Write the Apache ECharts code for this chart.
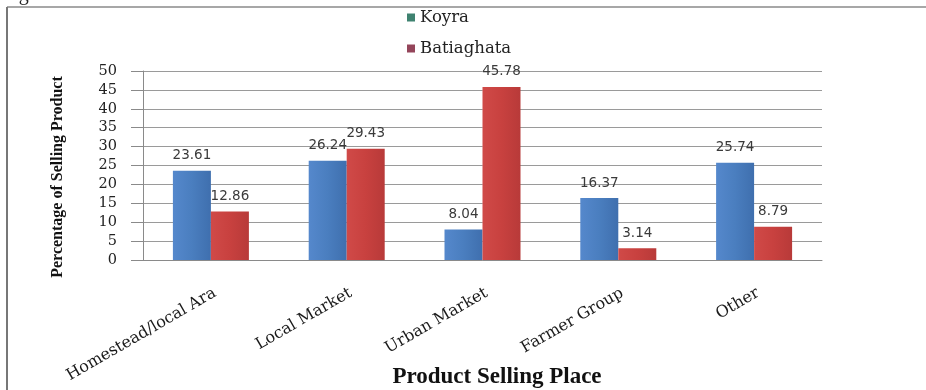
<!DOCTYPE html>
<html>
<head>
<meta charset="utf-8">
<style>
  html, body { margin: 0; padding: 0; background: #ffffff; }
  #chart { width: 926px; height: 390px; }
</style>
<script src="https://cdn.jsdelivr.net/npm/echarts@6/dist/echarts.min.js"></script>
</head>
<body>
<div id="chart"></div>
<script>
// Selling places and share of product sold (%) per upazila
const places = ['Homestead/local Ara', 'Local Market', 'Urban Market', 'Farmer Group', 'Other'];
const koyra = [23.61, 26.24, 8.04, 16.37, 25.74];
const batiaghata = [12.86, 29.43, 45.78, 3.14, 8.79];
const yTicks = { min: 0, max: 50, step: 5 };

const chart = echarts.init(document.getElementById('chart'), null, { renderer: 'canvas' });

const blueFill = new echarts.graphic.LinearGradient(0, 0, 1, 0, [
  { offset: 0, color: '#5588cc' },
  { offset: 0.5, color: '#4a7ebf' },
  { offset: 1, color: '#3f6fae' }
]);
const redFill = new echarts.graphic.LinearGradient(0, 0, 1, 0, [
  { offset: 0, color: '#d04a48' },
  { offset: 0.5, color: '#c8413f' },
  { offset: 1, color: '#b83a39' }
]);

const valueLabel = {
  show: true,
  position: 'top',
  distance: 8,
  fontFamily: 'DejaVu Sans',
  fontSize: 13.5,
  color: '#3a3a3a',
  formatter: p => p.value.toFixed(2)
};

chart.setOption({
  backgroundColor: '#ffffff',
  animation: false,
  legend: {
    orient: 'vertical',
    left: 402,
    top: 4,
    itemWidth: 8,
    itemHeight: 8,
    itemGap: 14,
    icon: 'rect',
    textStyle: { fontFamily: 'DejaVu Serif', fontSize: 16.5, color: '#222' },
    data: [
      { name: 'Koyra', itemStyle: { color: '#3f8270' } },
      { name: 'Batiaghata', itemStyle: { color: '#94455a' } }
    ]
  },
  grid: { left: 143, right: 104, top: 71, bottom: 130 },
  xAxis: {
    type: 'category',
    data: places,
    axisLine: { show: true, lineStyle: { color: '#8a8a8a', width: 1 } },
    axisTick: { show: false },
    axisLabel: {
      rotate: 30,
      margin: 25,
      verticalAlign: 'top',
      fontFamily: 'DejaVu Serif',
      fontSize: 16,
      color: '#1a1a1a',
      interval: 0
    }
  },
  yAxis: {
    type: 'value',
    min: yTicks.min,
    max: yTicks.max,
    interval: yTicks.step,
    axisLine: { show: true, lineStyle: { color: '#8a8a8a', width: 1 } },
    axisTick: { show: true, inside: false, length: 12, lineStyle: { color: '#8a8a8a' } },
    splitLine: { show: true, lineStyle: { color: '#9a9a9a', width: 1 } },
    axisLabel: {
      margin: 26,
      fontFamily: 'DejaVu Serif',
      fontSize: 14.5,
      color: '#222'
    }
  },
  series: [
    {
      name: 'Koyra',
      type: 'bar',
      data: koyra,
      barWidth: 38,
      barGap: '0%',
      itemStyle: { color: blueFill },
      label: valueLabel
    },
    {
      name: 'Batiaghata',
      type: 'bar',
      data: batiaghata,
      barWidth: 38,
      barGap: '0%',
      itemStyle: { color: redFill },
      label: valueLabel
    }
  ],
  graphic: [
    // page frame around the figure
    {
      type: 'line',
      shape: { x1: 7, y1: 7, x2: 926, y2: 7 },
      style: { stroke: '#8a8a8a', lineWidth: 1.5 }
    },
    {
      type: 'line',
      shape: { x1: 7, y1: 7, x2: 7, y2: 390 },
      style: { stroke: '#777777', lineWidth: 2 }
    },
    // caption above the frame, only its descender shows
    {
      type: 'text',
      left: 2,
      top: -15,
      style: { text: 'Fig', fontFamily: 'Liberation Serif', fontSize: 20, fill: '#222' }
    },
    // axis titles
    {
      type: 'text',
      x: 58,
      y: 177,
      rotation: Math.PI / 2,
      style: {
        text: 'Percentage of Selling Product',
        fontFamily: 'Liberation Serif',
        fontWeight: 'bold',
        fontSize: 16,
        fill: '#111',
        align: 'center',
        verticalAlign: 'middle'
      }
    },
    {
      type: 'text',
      x: 497,
      y: 377,
      style: {
        text: 'Product Selling Place',
        fontFamily: 'Liberation Serif',
        fontWeight: 'bold',
        fontSize: 23,
        fill: '#111',
        align: 'center',
        verticalAlign: 'middle'
      }
    }
  ]
});
</script>
</body>
</html>
